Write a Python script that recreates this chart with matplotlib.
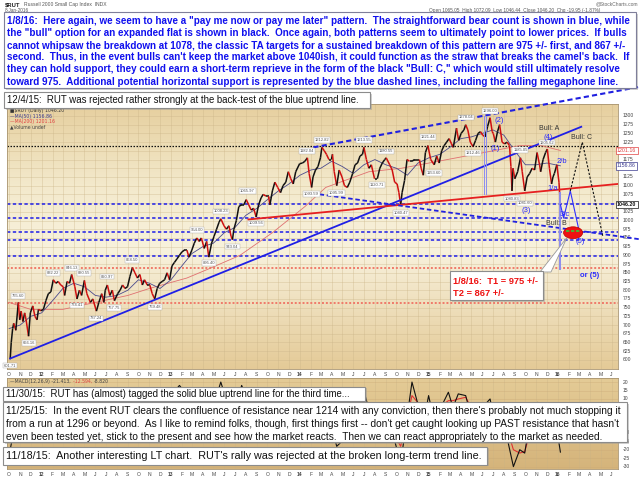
import matplotlib
matplotlib.use("Agg")
import matplotlib.pyplot as plt
import matplotlib.dates as mdates
import matplotlib.transforms as mtrans
from matplotlib.collections import LineCollection
from matplotlib.colors import LinearSegmentedColormap
from matplotlib.patches import Rectangle, Ellipse, Polygon
import numpy as np

plt.rcParams['font.family'] = ['Liberation Sans', 'DejaVu Sans']

# ---------------- data ----------------
price_dates = [
 '2011-10-04','2011-10-07','2011-10-11','2011-10-14','2011-10-20','2011-10-27','2011-10-31','2011-11-04','2011-11-09','2011-11-14',
 '2011-11-18','2011-11-25','2011-11-30','2011-12-07','2011-12-13','2011-12-19','2011-12-23','2011-12-30',
 '2012-01-06','2012-01-13','2012-01-20','2012-01-27','2012-02-03','2012-02-10','2012-02-17','2012-02-24','2012-03-02','2012-03-06',
 '2012-03-13','2012-03-20','2012-03-26','2012-04-04','2012-04-10','2012-04-17','2012-04-23','2012-05-01','2012-05-08','2012-05-18',
 '2012-05-25','2012-06-04','2012-06-11','2012-06-19','2012-06-25','2012-06-29','2012-07-05','2012-07-12','2012-07-19','2012-07-25',
 '2012-08-03','2012-08-10','2012-08-17','2012-08-24','2012-08-31','2012-09-07','2012-09-14','2012-09-21','2012-09-28','2012-10-05',
 '2012-10-12','2012-10-18','2012-10-26','2012-11-02','2012-11-09','2012-11-16','2012-11-23','2012-11-30','2012-12-07','2012-12-14',
 '2012-12-21','2012-12-28',
 '2013-01-04','2013-01-11','2013-01-18','2013-01-25','2013-02-01','2013-02-08','2013-02-15','2013-02-21','2013-03-01','2013-03-08',
 '2013-03-15','2013-03-22','2013-03-28','2013-04-05','2013-04-12','2013-04-18','2013-04-26','2013-05-03','2013-05-10','2013-05-17',
 '2013-05-22','2013-05-31','2013-06-07','2013-06-14','2013-06-20','2013-06-24','2013-06-28','2013-07-05','2013-07-12','2013-07-19',
 '2013-07-26','2013-08-02','2013-08-09','2013-08-16','2013-08-23','2013-08-30','2013-09-06','2013-09-13','2013-09-19','2013-09-27',
 '2013-10-04','2013-10-08','2013-10-15','2013-10-22','2013-10-30','2013-11-07','2013-11-14','2013-11-22','2013-11-29','2013-12-06',
 '2013-12-13','2013-12-20','2013-12-31',
 '2014-01-08','2014-01-15','2014-01-22','2014-01-27','2014-02-03','2014-02-07','2014-02-14','2014-02-21','2014-02-28','2014-03-04',
 '2014-03-11','2014-03-17','2014-03-24','2014-03-31','2014-04-03','2014-04-08','2014-04-15','2014-04-22','2014-04-30','2014-05-07',
 '2014-05-15','2014-05-22','2014-05-30','2014-06-06','2014-06-13','2014-06-20','2014-06-27','2014-07-01','2014-07-08','2014-07-15',
 '2014-07-22','2014-07-31','2014-08-08','2014-08-15','2014-08-22','2014-08-29','2014-09-02','2014-09-12','2014-09-19','2014-09-26',
 '2014-10-03','2014-10-08','2014-10-13','2014-10-17','2014-10-24','2014-10-31','2014-11-07','2014-11-14','2014-11-21','2014-11-28',
 '2014-12-05','2014-12-10','2014-12-16','2014-12-22','2014-12-29',
 '2015-01-06','2015-01-16','2015-01-23','2015-01-30','2015-02-06','2015-02-13','2015-02-20','2015-02-27','2015-03-06','2015-03-11',
 '2015-03-20','2015-03-26','2015-04-02','2015-04-10','2015-04-15','2015-04-21','2015-04-28','2015-05-06','2015-05-13','2015-05-20',
 '2015-05-27','2015-06-02','2015-06-09','2015-06-16','2015-06-23','2015-06-29','2015-07-02','2015-07-08','2015-07-14','2015-07-20',
 '2015-07-27','2015-08-03','2015-08-10','2015-08-17','2015-08-21','2015-08-24','2015-08-27','2015-09-01','2015-09-09','2015-09-17',
 '2015-09-22','2015-09-29','2015-10-06','2015-10-13','2015-10-20','2015-10-27','2015-11-03','2015-11-10','2015-11-13','2015-11-20',
 '2015-11-27','2015-12-02','2015-12-08','2015-12-14','2015-12-18','2015-12-22','2015-12-29','2016-01-04','2016-01-08']
price_vals = [
 602,650,690,705,685,765,715,740,710,735,
 715,668,735,755,725,715,745,741,
 745,770,790,795,830,820,825,815,810,785,
 825,820,845,810,775,800,785,828,790,765,
 775,740,765,790,765,800,815,785,800,770,
 790,800,815,805,810,840,865,850,835,845,
 815,830,815,815,790,775,805,820,825,830,
 850,830,
 870,880,890,900,910,915,915,895,915,935,
 950,940,950,920,940,895,935,955,975,995,
 1005,985,975,985,955,945,975,1000,1040,1045,
 1045,1060,1045,1030,1035,1010,1045,1065,1075,1070,
 1070,1045,1085,1110,1095,1080,1100,1110,1140,1120,
 1105,1140,1163,
 1165,1170,1180,1135,1095,1125,1145,1155,1180,1210,
 1200,1190,1175,1175,1190,1140,1100,1145,1125,1100,
 1095,1110,1135,1160,1165,1185,1190,1210,1175,1150,
 1160,1120,1120,1150,1165,1175,1180,1160,1145,1110,
 1105,1080,1045,1080,1115,1175,1170,1170,1175,1175,
 1175,1150,1130,1195,1215,
 1175,1160,1185,1165,1200,1215,1225,1235,1220,1210,
 1265,1230,1250,1260,1275,1260,1225,1212,1230,1250,
 1255,1245,1240,1270,1295,1255,1250,1225,1255,1275,
 1225,1220,1225,1215,1155,1085,1150,1120,1140,1180,
 1140,1085,1125,1135,1150,1145,1195,1160,1140,1175,
 1195,1205,1150,1105,1125,1135,1160,1110,1046]

ma50_dates = ['2011-10-01','2011-11-01','2011-12-01','2012-01-01','2012-02-01','2012-03-01','2012-04-01','2012-05-01',
 '2012-06-01','2012-07-01','2012-08-01','2012-09-01','2012-10-01','2012-11-01','2012-12-01','2013-01-01','2013-02-01',
 '2013-03-01','2013-04-01','2013-05-01','2013-06-01','2013-07-01','2013-08-01','2013-09-01','2013-10-01','2013-11-01',
 '2013-12-01','2014-01-01','2014-02-01','2014-03-01','2014-04-01','2014-05-01','2014-06-01','2014-07-01','2014-08-01',
 '2014-09-01','2014-10-01','2014-11-01','2014-12-01','2015-01-01','2015-02-01','2015-03-01','2015-04-01','2015-05-01',
 '2015-06-01','2015-07-01','2015-08-01','2015-09-01','2015-10-01','2015-11-01','2015-12-01','2016-01-08']
ma50_vals = [690,700,725,735,770,805,820,810,785,780,785,800,830,820,805,830,870,905,925,935,965,980,1015,1035,1060,1085,
 1105,1130,1145,1150,1170,1155,1135,1160,1175,1160,1150,1130,1165,1180,1190,1210,1235,1240,1250,1260,1245,1200,1160,
 1160,1165,1157]

ma200_dates = ['2011-10-01','2011-12-01','2012-03-01','2012-06-01','2012-09-01','2012-11-01','2013-02-15','2013-04-15',
 '2013-07-15','2013-10-15','2014-01-15','2014-03-15','2014-07-15','2014-10-15','2015-01-01','2015-04-15','2015-07-01',
 '2015-09-15','2015-11-15','2016-01-08']
ma200_vals = [765,745,745,765,785,805,835,860,900,965,1040,1095,1140,1150,1165,1185,1200,1215,1215,1201]

macd_dates = ['2011-10-04','2011-10-31','2011-11-25','2011-12-15','2012-01-15','2012-02-15','2012-03-15','2012-04-15',
 '2012-05-15','2012-06-05','2012-07-05','2012-07-25','2012-08-20','2012-09-15','2012-10-15','2012-11-16','2012-12-15',
 '2013-01-25','2013-02-25','2013-03-15','2013-04-18','2013-05-22','2013-06-24','2013-07-20','2013-08-30','2013-09-20',
 '2013-10-10','2013-10-25','2013-11-15','2013-12-31','2014-01-22','2014-02-05','2014-03-05','2014-04-15','2014-05-15',
 '2014-06-10','2014-07-02','2014-08-08','2014-09-02','2014-10-13','2014-11-14','2014-12-16','2014-12-31','2015-01-16',
 '2015-02-25','2015-03-10','2015-03-25','2015-04-15','2015-05-06','2015-06-01','2015-06-23','2015-07-08','2015-07-20',
 '2015-08-05','2015-08-28','2015-09-15','2015-09-29','2015-10-20','2015-11-05','2015-11-16','2015-12-02','2015-12-14',
 '2015-12-29','2016-01-08']
macd_vals = [-20,10,-5,2,12,15,10,-5,-10,-15,5,-3,8,15,-2,-12,8,18,10,15,-3,20,-2,18,-2,15,3,16,5,15,10,-12,15,-18,-12,
 5,14,-15,4,-28,20,-5,12,-3,14,5,13,12,-5,5,10,-5,3,-8,-30,-20,-22,5,8,-2,3,-12,-8,-21.4]
signal_vals = [-15,0,2,-2,6,13,12,3,-5,-11,-4,1,3,11,6,-7,-1,13,13,12,4,12,6,10,5,8,8,11,9,11,12,0,6,-6,-12,
 -3,9,-4,-2,-18,12,4,6,3,9,9,10,11,3,2,7,2,0,-4,-20,-22,-21,-6,4,2,1,-5,-7,-12.6]

hline_blue = [1046, 1008, 968, 943, 899]
hline_red = [865, 763]
hline_black = 1215

uptrend_dates, uptrend_vals = ['2011-10-04', '2016-03-07'], [604, 1269]
channel_dates, channel_vals = ['2014-02-08', '2016-08-21'], [1210, 1384]
redline_dates, redline_vals = ['2013-08-08', '2016-06-19'], [1003, 1105]
megaphone_dates, megaphone_vals = ['2014-01-16', '2016-08-21'], [1081, 946]
vline1_dates, vline1_span = ['2015-06-07', '2015-06-12'], [1300, 1076]
vline2_dates, vline2_span = ['2016-01-04', '2016-01-08'], [1083, 861]
bear_dates, bear_vals = ['2016-01-08', '2016-01-17', '2016-02-05', '2016-03-01'], [1046, 1007, 1085, 970]
bull_dates, bull_vals = ['2016-02-05', '2016-03-10', '2016-05-07'], [1085, 1225, 955]
target_date, target_val = '2016-02-13', 965

label_dates = ['2011-10-04','2011-10-27','2011-11-25','2012-02-03','2012-03-26','2012-04-10','2012-05-01','2012-06-04',
 '2012-07-05','2012-07-25','2012-09-14','2012-11-16','2013-03-15','2013-04-18','2013-05-22','2013-06-24','2013-08-05',
 '2013-08-30','2014-01-22','2014-02-03','2014-03-04','2014-04-15','2014-07-01','2014-08-08','2014-09-02','2014-10-13',
 '2014-12-29','2015-01-16','2015-04-15','2015-05-06','2015-06-23','2015-08-24','2015-09-17','2015-09-29','2015-12-02']
label_vals = [601.71,765.60,666.16,832.22,846.13,774.41,830.55,737.24,820.97,767.75,868.50,769.48,954.00,895.40,1008.23,
 943.04,1065.97,1009.56,1182.04,1093.59,1212.82,1095.99,1213.55,1120.71,1180.55,1040.47,1221.44,1153.60,1278.04,
 1212.46,1296.00,1080.83,1185.05,1081.60,1205.62]
label_side = [-1,1,-1,1,1,-1,1,-1,1,-1,1,-1,1,-1,1,-1,1,-1,1,-1,1,-1,1,-1,1,-1,1,-1,1,-1,1,-1,1,-1.8,1]

wave_text = ['(1)', '(2)', '(3)', '(4)', '(5)', '1/a', '2/b', '3/c', 'or (5)']
wave_dates = ['2015-07-07', '2015-07-19', '2015-10-04', '2015-12-04', '2016-03-04', '2015-12-18', '2016-01-12',
              '2016-01-21', '2016-04-01']
wave_vals = [1207, 1288, 1030, 1239, 939, 1093, 1169, 1018, 843]
bull_text = ['Bull: A', 'Bull: B', 'Bull: C']
bull_lab_dates = ['2015-12-07', '2015-12-28', '2016-03-08']
bull_lab_vals = [1265, 992, 1239]

price_ticks = list(range(600, 1325, 25))
macd_ticks = list(range(-30, 25, 5))

blue_note = [
 '1/8/16:  Here again, we seem to have a "pay me now or pay me later" pattern.  The straightforward bear count is shown in blue, while',
 'the "bull" option for an expanded flat is shown in black.  Once again, both patterns seem to ultimately point to lower prices.  If bulls',
 'cannot whipsaw the breakdown at 1078, the classic TA targets for a sustained breakdown of this pattern are 975 +/- first, and 867 +/-',
 "second.  Thus, in the event bulls can't keep the market above 1040ish, it could function as the straw that breaks the camel's back.  If",
 'they can hold support, they could earn a short-term reprieve in the form of the black "Bull: C," which would still ultimately resolve',
 'toward 975.  Additional potential horizontal support is represented by the blue dashed lines, including the falling megaphone line.']
note_1204 = '12/4/15:  RUT was rejected rather strongly at the back-test of the blue uptrend line.'
note_1130 = '11/30/15:  RUT has (almost) tagged the solid blue uptrend line for the third time...'
note_1125 = [
 "11/25/15:  In the event RUT clears the confluence of resistance near 1214 with any conviction, then there's probably not much stopping it",
 "from a run at 1296 or beyond.  As I like to remind folks, though, first things first -- don't get caught looking up PAST resistance that hasn't",
 "even been tested yet, stick to the present and see how the market reacts.  Then we can react appropriately to the market as needed."]
note_1118 = "11/18/15:  Another interesting LT chart.  RUT's rally was rejected at the broken long-term trend line."
red_note = ['1/8/16:  T1 = 975 +/-', 'T2 = 867 +/-']
macd_legend = [('\u2014MACD(12,26,9) -21.413, ', '#444444'), ('-12.594, ', '#e04040'), ('-8.820', '#444444')]

# ---------------- figure ----------------
W, H = 640, 479
fig = plt.figure(figsize=(6.4, 4.79), dpi=100)
fig.patch.set_facecolor('white')
D = mdates.datestr2num


def px_rect(x0, y0, x1, y1):
    return [x0 / W, 1 - y1 / H, (x1 - x0) / W, (y1 - y0) / H]


def grad_axes(rect, stops, z):
    bg = fig.add_axes(rect, zorder=z)
    cmap = LinearSegmentedColormap.from_list('g', stops)
    arr = np.linspace(0, 1, 256).reshape(-1, 1)
    bg.imshow(arr, cmap=cmap, aspect='auto', interpolation='bilinear')
    bg.axis('off')
    return bg


MX0, MX1, MY0, MY1 = 7, 618, 104, 369
CY0, CY1 = 378, 469
XLIM = (D('2011-09-25'), D('2016-06-19'))

grad_axes(px_rect(MX0, MY0, MX1, MY1),
          [(0, '#e6cf9e'), (0.3, '#f3e9cb'), (0.55, '#f8f2dd'), (1, '#e4ca97')], 1)
grad_axes(px_rect(MX0, CY0, MX1, CY1), [(0, '#e4cb96'), (1, '#d5b47b')], 1)

ax = fig.add_axes(px_rect(MX0, MY0, MX1, MY1), zorder=2)
cx = fig.add_axes(px_rect(MX0, CY0, MX1, CY1), zorder=2)
for a in (ax, cx):
    a.patch.set_alpha(0)
    a.set_xlim(*XLIM)
    a.set_xticks([])
    a.set_yticks([])
    for s in a.spines.values():
        s.set_color('#a89470')
        s.set_linewidth(0.6)
ax.set_ylim(573.9, 1334.4)
cx.set_ylim(-31.4, 22.4)

months = [np.datetime64('2011-10') + np.timedelta64(i, 'M') for i in range(57)]
month_nums = [mdates.date2num(m.astype('datetime64[D]')) for m in months]
letters = 'JFMAMJJASOND'
for m, mn in zip(months, month_nums):
    mi = int(str(m)[5:7])
    yr = str(m)[2:4]
    lab = yr if mi == 1 else letters[mi - 1]
    for a, off in ((ax, -5 / 265), (cx, -5 / 91)):
        a.axvline(mn, color='#c9b386', lw=0.4, alpha=0.6, zorder=0.5)
        a.text(mn, off, lab, transform=mtrans.blended_transform_factory(a.transData, a.transAxes),
               ha='center', va='center', fontsize=3.6, color='#444444',
               fontweight='bold' if mi == 1 else 'normal', clip_on=False)

for v in price_ticks:
    ax.axhline(v, color='#c9b386', lw=0.4, alpha=0.6, zorder=0.5)
    if v not in (1050, 1150, 1200):
        ax.text(1 + 4.5 / 611, v, str(v), transform=mtrans.blended_transform_factory(ax.transAxes, ax.transData),
                ha='left', va='center', fontsize=3.6, color='#444444', clip_on=False)
for v in macd_ticks:
    cx.axhline(v, color='#c9a874', lw=0.4, alpha=0.6, zorder=0.5)
    cx.text(1 + 4.5 / 611, v, str(v), transform=mtrans.blended_transform_factory(cx.transAxes, cx.transData),
            ha='left', va='center', fontsize=3.6, color='#444444', clip_on=False)

tr_r = mtrans.blended_transform_factory(ax.transAxes, ax.transData)
for val, txt, col, w in ((1201.16, '1201.16', '#e04040', 'normal'), (1156.86, '1156.86', '#3b3b8f', 'normal'),
                         (1046.20, '1046.20', '#111111', 'bold')):
    ax.text(1 - 1.0 / 611, val, txt, transform=tr_r, ha='left', va='center', fontsize=3.8, color=col,
            fontweight=w, clip_on=False, zorder=8,
            bbox=dict(boxstyle='square,pad=0.25', fc='white', ec=col, lw=0.5))

# horizontal support/resistance lines
for v in hline_blue:
    ax.axhline(v, color='#1e1ee8', lw=1.1, ls=(0, (2.2, 1.6)), zorder=2)
for v in hline_red:
    ax.axhline(v, color='#f07a6a', lw=1.4, ls=(0, (1, 1)), zorder=2)
ax.axhline(hline_black, color='#111111', lw=0.9, ls=(0, (1.2, 1.2)), zorder=2)

# moving averages
ax.plot([D(s) for s in ma200_dates], ma200_vals, color='#e07070', lw=0.6, zorder=3)
ax.plot([D(s) for s in ma50_dates], ma50_vals, color='#4a4a8c', lw=0.6, zorder=3)

# price
px = np.array([D(s) for s in price_dates])
py = np.array(price_vals, dtype=float)
segs = [[(px[i], py[i]), (px[i + 1], py[i + 1])] for i in range(len(px) - 1)]
cols = ['#111111' if py[i + 1] >= py[i] else '#d01010' for i in range(len(px) - 1)]
ax.add_collection(LineCollection(segs, colors=cols, linewidths=1.1, zorder=4))

# trend lines
ax.plot([D(s) for s in uptrend_dates], uptrend_vals, color='#1f1fe6', lw=1.3, zorder=5)
ax.plot([D(s) for s in channel_dates], channel_vals, color='#2020e0', lw=1.5, ls=(0, (2.5, 1.5)),
        zorder=5, clip_on=False)
ax.plot([D(s) for s in redline_dates], redline_vals, color='#e62020', lw=1.3, zorder=5)
ax.plot([D(s) for s in megaphone_dates], megaphone_vals, color='#2020e0', lw=1.3, ls=(0, (2.5, 1.5)),
        zorder=5, clip_on=False)
for dd in vline1_dates:
    ax.plot([D(dd), D(dd)], vline1_span, color='#8c8cf0', lw=0.7, zorder=5)
for dd in vline2_dates:
    ax.plot([D(dd), D(dd)], vline2_span, color='#8c8cf0', lw=0.7, zorder=5)
ax.plot([D(s) for s in bear_dates], bear_vals, color='#3030ff', lw=0.8, zorder=6)
ax.plot([D(s) for s in bull_dates], bull_vals, color='#111111', lw=0.8, ls=(0, (2, 1.5)), zorder=6)
ax.add_patch(Ellipse((D(target_date), target_val), 54, 34, fc='#ee1111', ec='#bb0000', lw=0.5, zorder=7))
ax.plot([D(target_date) - 21, D(target_date) + 21], [target_val + 6, target_val + 6], color='#33cc33',
        lw=1.2, ls=(0, (2, 1)), zorder=8)

# swing value labels
for dd, vv, sd in zip(label_dates, label_vals, label_side):
    ax.annotate(f'{vv:.2f}', (D(dd), vv), xytext=(0, 4.5 * sd), textcoords='offset points',
                ha='center', va='center', fontsize=3.0, color='#555555', zorder=6,
                bbox=dict(boxstyle='square,pad=0.2', fc='white', ec='#aaaaaa', lw=0.3))

for t, dd, vv in zip(wave_text, wave_dates, wave_vals):
    ax.text(D(dd), vv, t, ha='center', va='center', fontsize=5.5, color='#2a2aff', zorder=9,
            fontweight='bold' if t.startswith('or') else 'normal', clip_on=False)
for t, dd, vv in zip(bull_text, bull_lab_dates, bull_lab_vals):
    ax.text(D(dd), vv, t, ha='center', va='center', fontsize=5.0, color='#333333', zorder=9)

# MACD
cd = [D(s) for s in macd_dates]
cx.plot(cd, signal_vals, color='#e03030', lw=0.8, zorder=3)
cx.plot(cd, macd_vals, color='#111111', lw=0.8, zorder=4)

# ---------------- overlay (header, legends, note boxes) ----------------
ov = fig.add_axes([0, 0, 1, 1], zorder=10)
ov.set_xlim(0, W)
ov.set_ylim(H, 0)
ov.axis('off')
ov.patch.set_alpha(0)
renderer = fig.canvas.get_renderer()

ov.text(5, 4.5, '$RUT', fontsize=4.2, fontweight='bold', color='#222222', va='center')
ov.text(24, 4.5, 'Russell 2000 Small Cap Index  INDX', fontsize=3.6, color='#555555', va='center')
ov.text(5, 10.5, '8-Jan-2016', fontsize=3.4, color='#555555', va='center')
ov.text(638, 4, '@StockCharts.com', fontsize=3.5, color='#666666', va='center', ha='right')
ov.text(600, 10.5, 'Open 1065.05  High 1072.09  Low 1046.44  Close 1046.20  Chg -19.95 (-1.87%)',
        fontsize=3.4, color='#555555', va='center', ha='right')

ov.text(10, 110.7, '\u25a0$RUT (Daily) 1046.20', fontsize=3.3, color='#333333', va='center',
        family=['DejaVu Sans'])
ov.text(10, 116.0, '\u2014MA(50) 1156.86', fontsize=3.3, color='#3b3b8f', va='center', family=['DejaVu Sans'])
ov.text(10, 121.3, '\u2014MA(200) 1201.16', fontsize=3.3, color='#e04040', va='center', family=['DejaVu Sans'])
ov.text(10, 126.7, '\u25b2Volume undef', fontsize=3.3, color='#444444', va='center', family=['DejaVu Sans'])
xcur = 10
for piece, col in macd_legend:
    t = ov.text(xcur, 381.5, piece, fontsize=3.3, color=col, va='center', family=['DejaVu Sans'])
    xcur += t.get_window_extent(renderer).width + 0.5


def fit_text(x, y, s, width, size=None, **kw):
    t = ov.text(x, y, s, fontsize=10, va='center', ha='left', zorder=6, **kw)
    if size is None:
        w = t.get_window_extent(renderer).width
        size = 10 * width / w
    t.set_fontsize(size)
    return size


def box(x0, y0, x1, y1, ec='#8c8c8c'):
    ov.add_patch(Rectangle((x0 + 1.5, y0 + 1.5), x1 - x0, y1 - y0, fc='#9a9a9a', ec='none', alpha=0.45, zorder=4))
    ov.add_patch(Rectangle((x0, y0), x1 - x0, y1 - y0, fc='white', ec=ec, lw=0.8, zorder=5))


box(4, 12, 636, 88, ec='#7f7f9a')
sz = None
for i, (ln, yy) in enumerate(zip(blue_note, [20.7, 33.2, 45.5, 57.4, 69.4, 81.6])):
    sz = fit_text(7, yy, ln, 625, size=sz, color='#1010ee', fontweight='bold')

box(4, 92, 370, 108)
fit_text(7, 100, note_1204, 355, color='#111111')

box(3, 386.7, 365, 400.5)
fit_text(6, 393.8, note_1130, 348, color='#111111')

box(3, 402.3, 627, 442)
sz = None
for ln, yy in zip(note_1125, [410.8, 423.8, 436.6]):
    sz = fit_text(6, yy, ln, 612, size=sz, color='#111111')

box(3, 446.7, 487, 464.5)
fit_text(6, 455.7, note_1118, 471, color='#111111')

ov.add_patch(Polygon([(540, 272), (551, 272), (567, 237.5)], closed=True, fc='white', ec='#999999',
                     lw=0.6, zorder=4.5))
box(450, 271, 543, 300)
sz = fit_text(453, 281.2, red_note[0], 84.5, color='#ee1111', fontweight='bold')
fit_text(453, 293.4, red_note[1], 0, size=sz, color='#ee1111', fontweight='bold')

fig.savefig('out.png', dpi=100)
